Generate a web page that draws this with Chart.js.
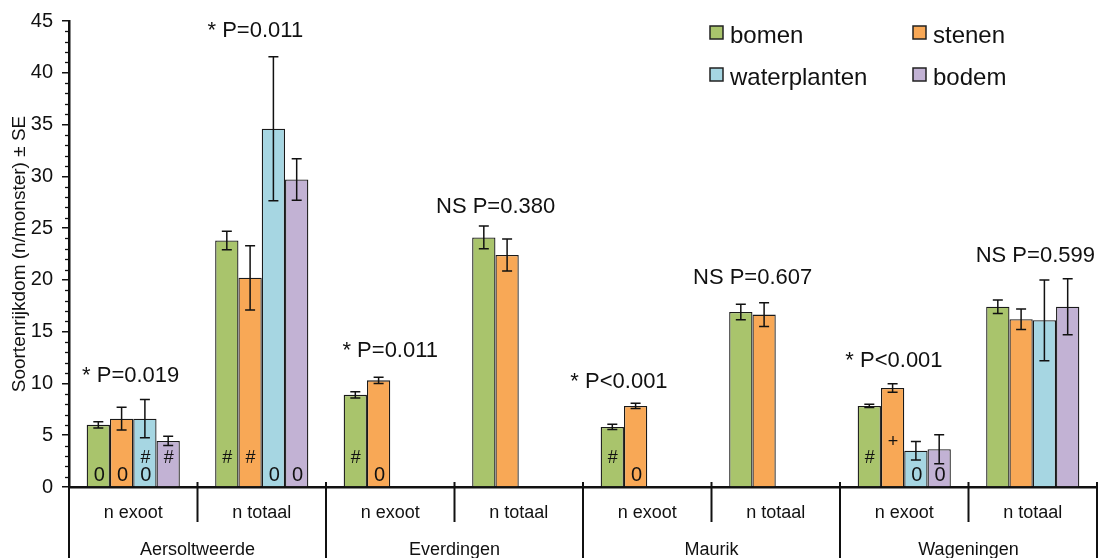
<!DOCTYPE html>
<html>
<head>
<meta charset="utf-8">
<script src="https://cdn.jsdelivr.net/npm/chart.js@4.4.1/dist/chart.umd.min.js"></script>
<style>
  html, body { margin: 0; padding: 0; background: #fff; }
  #wrap { width: 1098px; height: 558px; position: relative; }
</style>
</head>
<body>
<div id="wrap"><canvas id="c" width="1098" height="558"></canvas></div>
<script>
// ---- data ----
const categories = ["n exoot", "n totaal", "n exoot", "n totaal", "n exoot", "n totaal", "n exoot", "n totaal"];
const groups = ["Aersoltweerde", "Everdingen", "Maurik", "Wageningen"];
const seriesNames = ["bomen", "stenen", "waterplanten", "bodem"];

const bomen        = [6.0, 23.8, 8.9, 24.1, 5.8, 16.9, 7.83, 17.4];
const stenen       = [6.6, 20.2, 10.3, 22.4, 7.83, 16.65, 9.56, 16.2];
const waterplanten = [6.6, 34.6, null, null, null, null, 3.5, 16.1];
const bodem        = [4.45, 29.7, null, null, null, null, 3.65, 17.4];

const bomenSE        = [0.3, 0.9, 0.3, 1.1, 0.25, 0.75, 0.15, 0.65];
const stenenSE       = [1.1, 3.1, 0.3, 1.55, 0.25, 1.15, 0.4, 1.0];
const waterplantenSE = [1.85, 6.95, null, null, null, null, 0.9, 3.9];
const bodemSE        = [0.45, 2.0, null, null, null, null, 1.4, 2.7];

// symbols written inside bars (bottom-up)
const bomenMarks        = ["0", "#", "#", "", "#", "", "#", ""];
const stenenMarks       = ["0", "#", "0", "", "0", "", "+", ""];
const waterplantenMarks = ["0#", "0", "", "", "", "", "0", ""];
const bodemMarks        = ["#", "0", "", "", "", "", "0", ""];

// significance labels per category
const pTexts = ["* P=0.019", "* P=0.011", "* P=0.011", "NS P=0.380", "* P<0.001", "NS P=0.607", "* P<0.001", "NS P=0.599"];
const pValuesY = [10.1, 43.5, 12.6, 26.5, 9.6, 19.65, 11.6, 21.7];
const pShift = [-0.02, -0.05, 0, -0.18, -0.22, -0.18, -0.08, 0.02];

const yTicksMax = 45;
const yTickStep = 5;

// ---- styles ----
const colors = ["#A9C46C", "#F8A856", "#A6D6E2", "#C2B2D4"];
const FONT = "'Liberation Sans', Arial, sans-serif";

const seValues = [bomenSE, stenenSE, waterplantenSE, bodemSE];
const marks = [bomenMarks, stenenMarks, waterplantenMarks, bodemMarks];
const values = [bomen, stenen, waterplanten, bodem];

const datasets = seriesNames.map((n, i) => ({
  label: n,
  data: values[i],
  backgroundColor: colors[i],
  borderColor: "#1a1a1a",
  borderWidth: 1.3,
  borderSkipped: "bottom",
  categoryPercentage: 0.725,
  barPercentage: 1.0,
  se: seValues[i],
  marks: marks[i]
}));

const markBase = { "0": 0.55, "#": 2.3, "+": 3.9 };

const extras = {
  id: "extras",
  afterDatasetsDraw(chart) {
    const ctx = chart.ctx;
    const y = chart.scales.y;
    const x = chart.scales.x;
    ctx.save();
    // error bars
    chart.data.datasets.forEach((ds, di) => {
      const meta = chart.getDatasetMeta(di);
      meta.data.forEach((bar, i) => {
        const v = ds.data[i], e = ds.se[i];
        if (v == null || e == null) return;
        const yt = y.getPixelForValue(v + e), yb = y.getPixelForValue(v - e);
        ctx.strokeStyle = "#111";
        ctx.lineWidth = 1.5;
        ctx.beginPath();
        ctx.moveTo(bar.x, yt); ctx.lineTo(bar.x, yb);
        ctx.moveTo(bar.x - 5, yt); ctx.lineTo(bar.x + 5, yt);
        ctx.moveTo(bar.x - 5, yb); ctx.lineTo(bar.x + 5, yb);
        ctx.stroke();
      });
    });
    // symbols in bars
    ctx.fillStyle = "#111";
    ctx.textAlign = "center";
    ctx.textBaseline = "alphabetic";
    chart.data.datasets.forEach((ds, di) => {
      const meta = chart.getDatasetMeta(di);
      meta.data.forEach((bar, i) => {
        const m = ds.marks[i];
        if (!m) return;
        for (const ch of m) {
          ctx.font = (ch === "0" ? "20px " : "18px ") + FONT;
          ctx.fillText(ch, bar.x + (ch === "0" ? 1 : 0.5), y.getPixelForValue(markBase[ch]));
        }
      });
    });
    // p-value labels
    ctx.font = "22px " + FONT;
    const cw = x.getPixelForValue(1) - x.getPixelForValue(0);
    pTexts.forEach((t, i) => {
      ctx.fillText(t, x.getPixelForValue(i) + pShift[i] * cw, y.getPixelForValue(pValuesY[i]));
    });
    ctx.restore();
  },
  afterDraw(chart) {
    const ctx = chart.ctx;
    const x = chart.scales.x;
    const y = chart.scales.y;
    const area = chart.chartArea;
    const cw = x.getPixelForValue(1) - x.getPixelForValue(0);
    ctx.save();
    // minor y ticks
    ctx.strokeStyle = "#111";
    ctx.lineWidth = 1.3;
    for (let v = 0; v <= yTicksMax; v += 1) {
      if (v % yTickStep === 0) continue;
      const py = Math.round(y.getPixelForValue(v)) + 0.5;
      ctx.beginPath(); ctx.moveTo(area.left - 4, py); ctx.lineTo(area.left, py); ctx.stroke();
    }
    // x dividers
    ctx.lineWidth = 2;
    const top = area.bottom - 5;
    for (let i = 0; i <= categories.length; i++) {
      const px = x.getPixelForValue(i) - cw / 2;
      const isGroup = i % 2 === 0;
      ctx.beginPath();
      ctx.moveTo(px, top);
      ctx.lineTo(px, isGroup ? chart.height : area.bottom + 35);
      ctx.stroke();
    }
    // group labels
    ctx.fillStyle = "#111";
    ctx.font = "18px " + FONT;
    ctx.textAlign = "center";
    ctx.textBaseline = "alphabetic";
    groups.forEach((g, gi) => {
      const px = (x.getPixelForValue(gi * 2) + x.getPixelForValue(gi * 2 + 1)) / 2;
      ctx.fillText(g, px, area.bottom + 68);
    });
    // legend
    ctx.font = "24px " + FONT;
    ctx.textAlign = "left";
    const legX = [710, 913], legY = [26, 68];
    chart.data.datasets.forEach((ds, i) => {
      const lx = legX[i % 2], ly = legY[Math.floor(i / 2)];
      ctx.fillStyle = ds.backgroundColor;
      ctx.fillRect(lx, ly, 13, 13);
      ctx.strokeStyle = "#222";
      ctx.lineWidth = 1.5;
      ctx.strokeRect(lx, ly, 13, 13);
      ctx.fillStyle = "#111";
      ctx.fillText(ds.label, lx + 20, ly + 17);
    });
    ctx.restore();
  }
};

new Chart(document.getElementById("c"), {
  type: "bar",
  data: { labels: categories, datasets },
  options: {
    responsive: false,
    animation: false,
    devicePixelRatio: 1,
    layout: { padding: { top: 17, right: 1, left: 0, bottom: 0 } },
    plugins: { legend: { display: false }, tooltip: { enabled: false } },
    scales: {
      x: {
        type: "category",
        offset: true,
        grid: { display: false, drawTicks: false },
        border: { display: true, color: "#111", width: 2.5 },
        ticks: { color: "#111", font: { family: FONT, size: 18 }, padding: 15, maxRotation: 0, autoSkip: false },
        afterFit(s) { s.height = 71; }
      },
      y: {
        min: 0,
        max: yTicksMax,
        grid: { display: true, drawOnChartArea: false, drawTicks: true, tickLength: 7, color: "#111", lineWidth: 1.5 },
        border: { display: true, color: "#111", width: 2.5 },
        ticks: { stepSize: yTickStep, color: "#111", font: { family: FONT, size: 20 }, padding: 9 },
        title: { display: true, text: "Soortenrijkdom (n/monster) ± SE", color: "#111", font: { family: FONT, size: 19 }, padding: { top: 8, bottom: 0 } },
        afterFit(s) { s.width = 69; }
      }
    }
  },
  plugins: [extras]
});
</script>
</body>
</html>
